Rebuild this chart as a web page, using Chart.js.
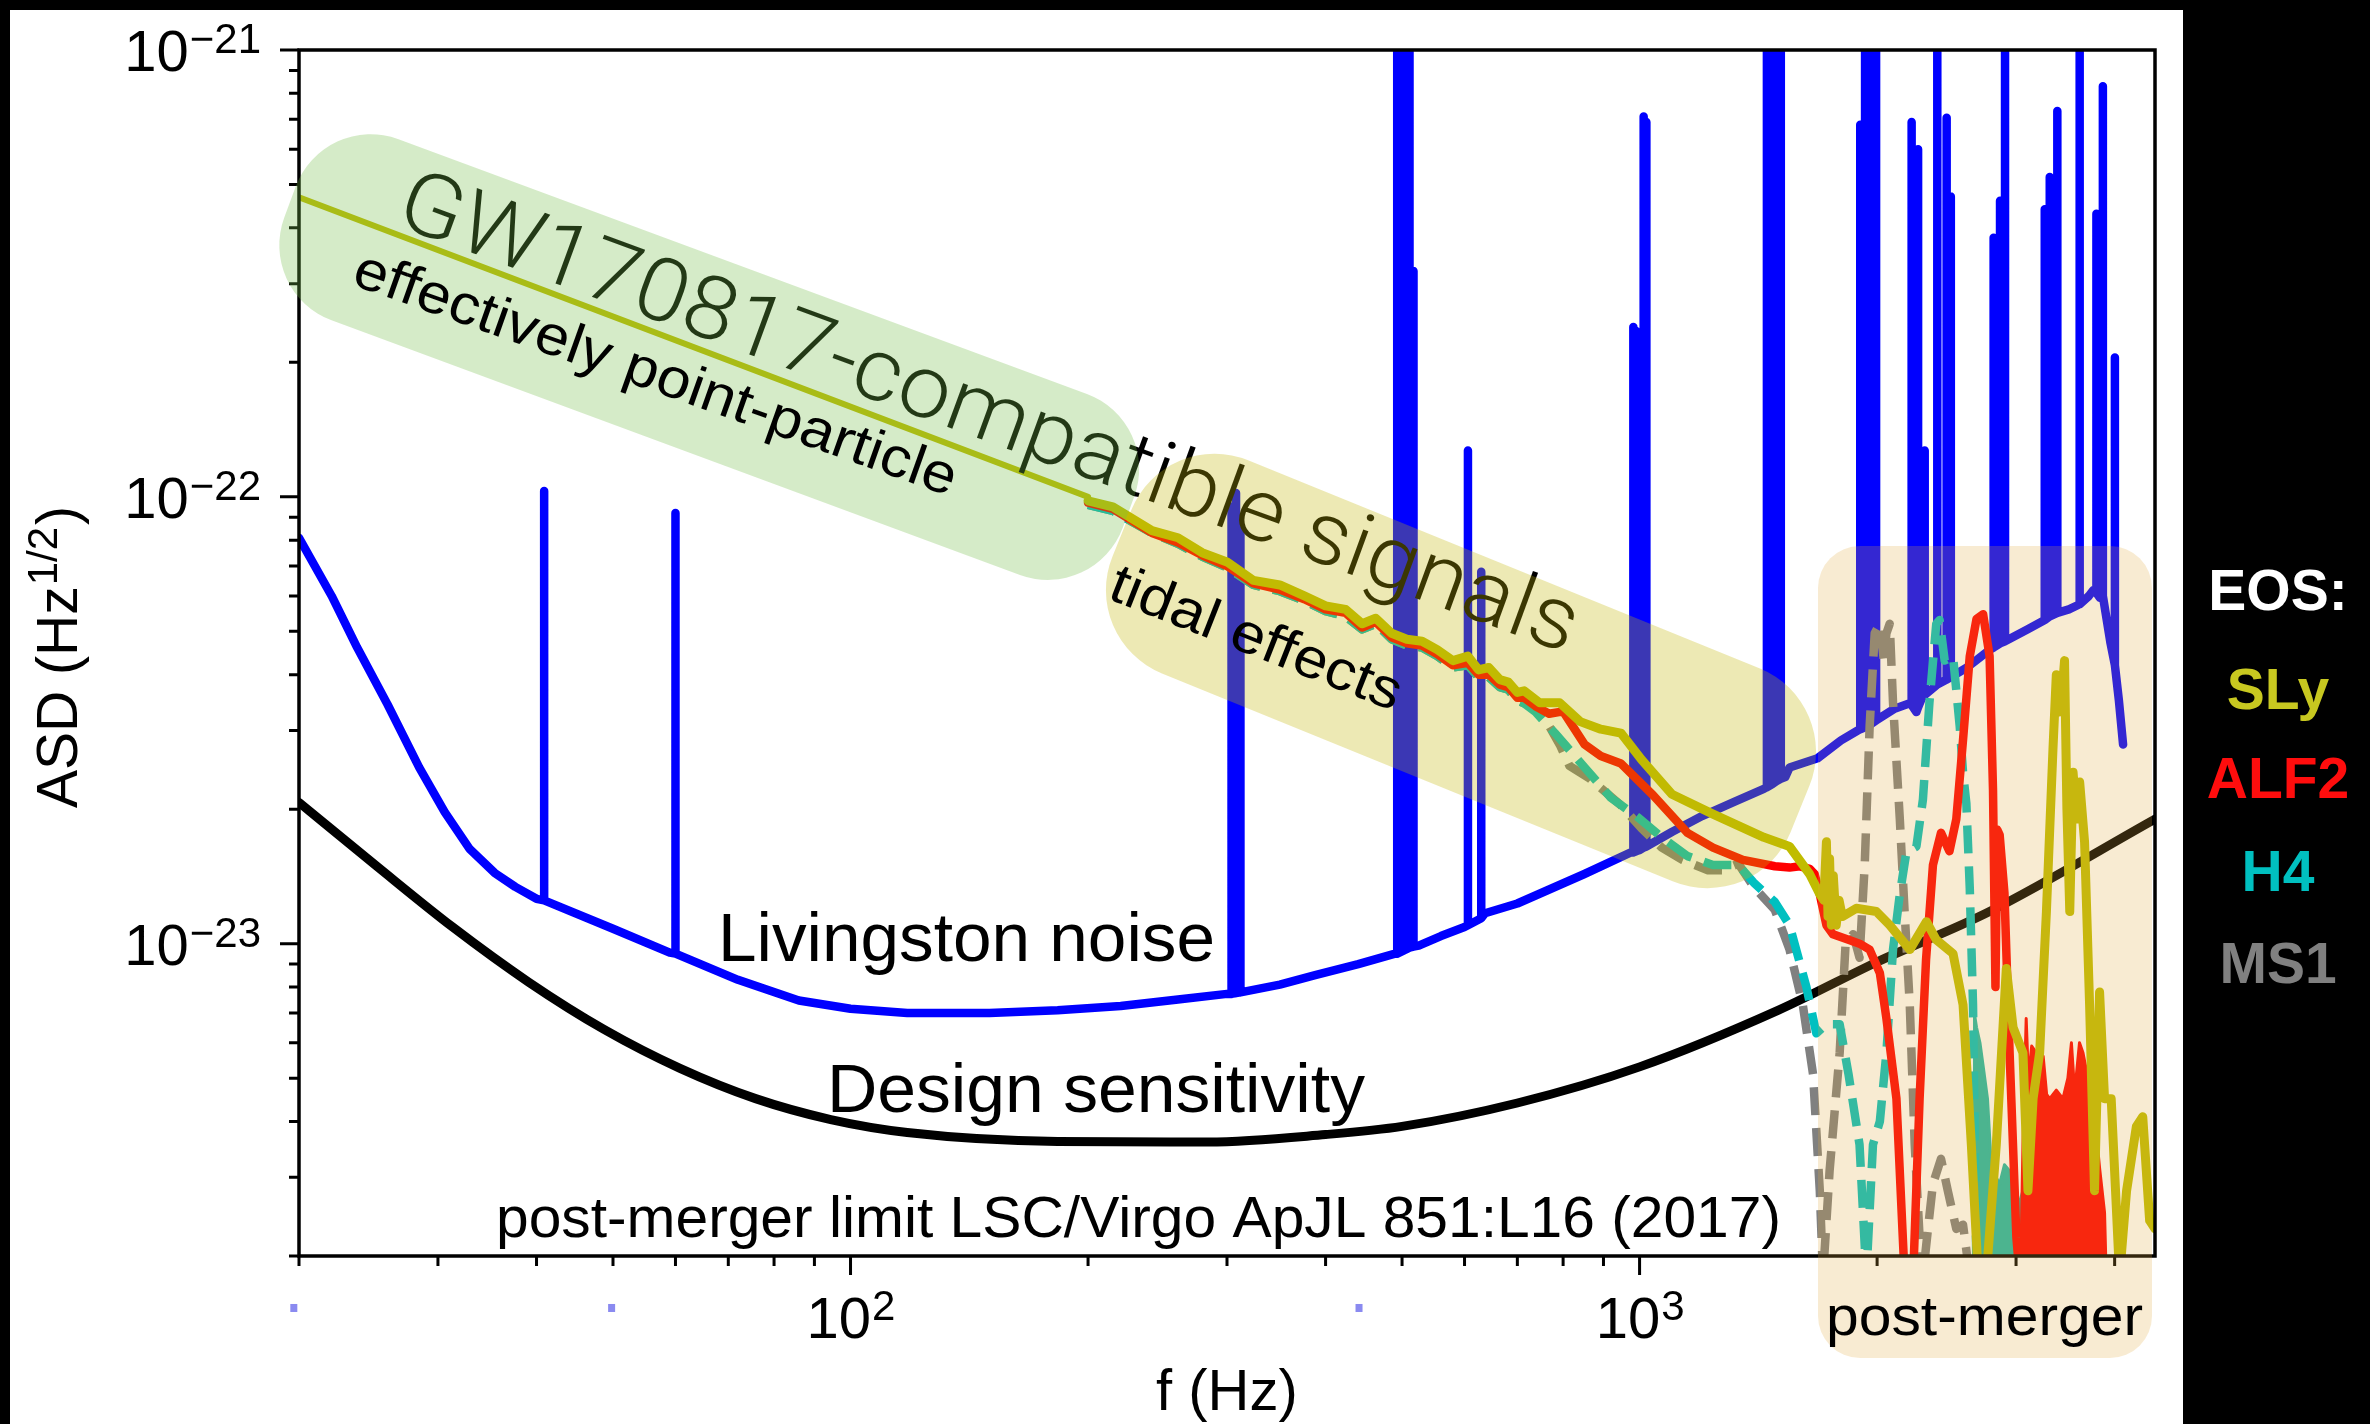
<!DOCTYPE html>
<html>
<head>
<meta charset="utf-8">
<script src="https://cdn.jsdelivr.net/npm/chart.js@4.4.1/dist/chart.umd.min.js"></script>
<style>
  html, body { margin: 0; padding: 0; background: #000; overflow: hidden; }
  canvas { display: block; }
</style>
</head>
<body>
<canvas id="asdChart" width="2370" height="1424"></canvas>
<script>
// ---- Data ----

// Livingston noise, smooth part
const NOISE_F = [20, 22, 23.7, 25.9, 28.4, 30.6, 32.9, 35.4, 37.6, 40, 50, 59, 72, 86, 100, 118, 150, 183, 220, 260, 300, 350, 388, 440, 490, 525, 560, 600, 637, 700, 850, 975, 1100, 1200, 1320, 1437, 1530, 1549, 1681, 1800, 1890, 2100, 2200, 2243, 2280, 2600, 2780, 3100, 3500, 3710, 3755, 3830, 3950, 4050, 4100];
const NOISE_ASD = [8.1e-23, 6.0e-23, 4.6e-23, 3.43e-23, 2.48e-23, 1.97e-23, 1.63e-23, 1.44e-23, 1.34e-23, 1.26e-23, 1.08e-23, 9.55e-24, 8.3e-24, 7.46e-24, 7.15e-24, 7.0e-24, 7.0e-24, 7.1e-24, 7.25e-24, 7.5e-24, 7.72e-24, 8.1e-24, 8.5e-24, 9.0e-24, 9.5e-24, 9.9e-24, 1.04e-23, 1.09e-23, 1.17e-23, 1.23e-23, 1.43e-23, 1.6e-23, 1.78e-23, 1.93e-23, 2.08e-23, 2.22e-23, 2.36e-23, 2.48e-23, 2.6e-23, 2.85e-23, 3.0e-23, 3.35e-23, 3.45e-23, 3.3e-23, 3.55e-23, 4.15e-23, 4.55e-23, 5.05e-23, 5.6e-23, 6.0e-23, 6.17e-23, 5.95e-23, 4.73e-23, 3.5e-23, 2.79e-23];

// Livingston noise, spectral lines: frequency, floor under the line, top of the line
const LINE_F = [40.9, 60, 304, 308, 312, 493, 499, 505, 511, 517, 606, 630, 982, 990, 1000, 1012, 1020, 1450, 1470, 1490, 1510, 1904, 1931, 1952, 1973, 1994, 2212, 2254, 2298, 2384, 2450, 2480, 2810, 2863, 2905, 3262, 3310, 3384, 3612, 3793, 3865, 4003];
const LINE_BASE = [1.25e-23, 9.5e-24, 7.72e-24, 7.75e-24, 7.78e-24, 9.5e-24, 9.6e-24, 9.7e-24, 9.8e-24, 9.85e-24, 1.1e-23, 1.14e-23, 1.6e-23, 1.61e-23, 1.62e-23, 1.64e-23, 1.65e-23, 2.24e-23, 2.27e-23, 2.31e-23, 2.34e-23, 3.02e-23, 3.05e-23, 3.08e-23, 3.12e-23, 3.16e-23, 3.42e-23, 3.38e-23, 3.6e-23, 3.8e-23, 3.9e-23, 3.95e-23, 4.6e-23, 4.7e-23, 4.75e-23, 5.3e-23, 5.4e-23, 5.5e-23, 5.75e-23, 6.1e-23, 6.0e-23, 4.2e-23];
const LINE_TOP = [1.03e-22, 9.2e-23, 9.5e-23, 1.02e-22, 8.6e-23, 3e-21, 3e-21, 3e-21, 3e-21, 3.2e-22, 1.27e-22, 6.8e-23, 2.4e-22, 2.35e-22, 1.5e-22, 7.1e-22, 6.9e-22, 3e-21, 3e-21, 3e-21, 3e-21, 6.8e-22, 3e-21, 3e-21, 3e-21, 3e-21, 6.9e-22, 6.0e-22, 1.27e-22, 3e-21, 7.05e-22, 4.7e-22, 3.8e-22, 4.6e-22, 3e-21, 4.4e-22, 5.2e-22, 7.3e-22, 3e-21, 4.3e-22, 8.3e-22, 2.05e-22];

// Design sensitivity
const DESIGN_F = [20, 25.1, 31.3, 39.1, 48.7, 60.8, 75.8, 94.4, 118, 183, 284, 400, 500, 700, 1000, 1500, 2000, 2777, 4500];
const DESIGN_ASD = [2.07e-23, 1.49e-23, 1.09e-23, 8.2e-24, 6.43e-24, 5.26e-24, 4.5e-24, 4.04e-24, 3.78e-24, 3.61e-24, 3.6e-24, 3.74e-24, 3.9e-24, 4.4e-24, 5.3e-24, 7.1e-24, 9.1e-24, 1.18e-23, 1.9e-23];

// Point-particle inspiral, shared by all EOS
const PP_F = [20, 200];
const PP_ASD = [4.68e-22, 1.0e-22];

// SLy
const SLY_F = [200, 215, 241, 260, 279, 300, 324, 350, 376, 400, 424, 445, 463, 485, 507, 530, 554, 580, 606, 625, 644, 665, 682, 700, 714, 747, 792, 841, 893, 947, 1006, 1099, 1239, 1437, 1549, 1643, 1692, 1712, 1725, 1733, 1741, 1750, 1760, 1775, 1790, 1807, 1882, 1996, 2075, 2200, 2310, 2377, 2496, 2570, 2633, 2687, 2750, 2832, 2916, 2974, 3061, 3106, 3153, 3214, 3278, 3341, 3374, 3400, 3423, 3456, 3480, 3509, 3543, 3580, 3612, 3664, 3718, 3772, 3828, 3884, 3960, 4058, 4142, 4262, 4342, 4430, 4500];
const SLY_ASD = [9.8e-23, 9.5e-23, 8.4e-23, 8.1e-23, 7.5e-23, 7.15e-23, 6.5e-23, 6.35e-23, 6.0e-23, 5.7e-23, 5.6e-23, 5.2e-23, 5.35e-23, 4.95e-23, 4.8e-23, 4.75e-23, 4.55e-23, 4.3e-23, 4.4e-23, 4.1e-23, 4.15e-23, 3.9e-23, 3.85e-23, 3.65e-23, 3.68e-23, 3.46e-23, 3.46e-23, 3.14e-23, 3.02e-23, 2.96e-23, 2.58e-23, 2.16e-23, 1.95e-23, 1.73e-23, 1.65e-23, 1.43e-23, 1.29e-23, 1.25e-23, 1.69e-23, 1.15e-23, 1.55e-23, 1.1e-23, 1.42e-23, 1.1e-23, 1.25e-23, 1.15e-23, 1.2e-23, 1.18e-23, 1.1e-23, 9.7e-24, 1.12e-23, 1.02e-23, 9.5e-24, 7.3e-24, 3.55e-24, 1.8e-24, 1.8e-24, 3.55e-24, 8.8e-24, 6.5e-24, 5.7e-24, 2.8e-24, 4.5e-24, 5.7e-24, 1.18e-23, 2.72e-23, 4.0e-23, 3.3e-23, 3.47e-23, 4.3e-23, 2.0e-23, 1.18e-23, 2.42e-23, 1.9e-23, 2.3e-23, 1.69e-23, 7.3e-24, 2.8e-24, 7.8e-24, 4.5e-24, 4.5e-24, 1.8e-24, 2.8e-24, 3.9e-24, 4.1e-24, 2.4e-24, 2.3e-24];

// ALF2
const ALF2_F = [200, 215, 241, 260, 279, 300, 324, 350, 376, 400, 424, 445, 463, 485, 507, 530, 554, 580, 606, 625, 644, 665, 682, 700, 714, 738, 768, 800, 852, 893, 947, 1040, 1150, 1239, 1352, 1484, 1549, 1596, 1643, 1667, 1692, 1725, 1758, 1840, 1900, 1957, 2016, 2055, 2116, 2167, 2222, 2264, 2307, 2354, 2410, 2470, 2520, 2570, 2621, 2673, 2725, 2777, 2805, 2825, 2840, 2860, 2900, 2944, 3003, 3032];
const ALF2_ASD = [9.7e-23, 9.4e-23, 8.3e-23, 7.9e-23, 7.4e-23, 7.0e-23, 6.4e-23, 6.2e-23, 5.9e-23, 5.6e-23, 5.5e-23, 5.1e-23, 5.25e-23, 4.85e-23, 4.7e-23, 4.65e-23, 4.45e-23, 4.2e-23, 4.25e-23, 4.0e-23, 4.0e-23, 3.8e-23, 3.75e-23, 3.55e-23, 3.55e-23, 3.4e-23, 3.27e-23, 3.31e-23, 2.79e-23, 2.63e-23, 2.53e-23, 2.15e-23, 1.77e-23, 1.64e-23, 1.54e-23, 1.49e-23, 1.48e-23, 1.49e-23, 1.47e-23, 1.43e-23, 1.29e-23, 1.1e-23, 1.05e-23, 1.02e-23, 1.0e-23, 9.7e-24, 8.6e-24, 6.8e-24, 4.5e-24, 1.8e-24, 1.8e-24, 4.5e-24, 9.2e-24, 1.5e-23, 1.77e-23, 1.61e-23, 1.9e-23, 2.86e-23, 4.4e-23, 5.33e-23, 5.46e-23, 4.4e-23, 2.2e-23, 8.0e-24, 1.8e-23, 1.75e-23, 1.3e-23, 5.7e-24, 2.2e-24, 1.8e-24];
// ALF2 ringdown, upper envelope of the dense oscillation
const ALF2_RING_F = [3040, 3061, 3090, 3110, 3140, 3183, 3215, 3247, 3280, 3310, 3374, 3440, 3490, 3526, 3550, 3578, 3610, 3647, 3700, 3755, 3800, 3828, 3884, 3903];
const ALF2_RING_ASD = [1.8e-24, 3.55e-24, 6.8e-24, 5.0e-24, 5.9e-24, 5.7e-24, 5.2e-24, 5.6e-24, 4.6e-24, 4.5e-24, 4.7e-24, 4.5e-24, 5.0e-24, 6.0e-24, 5.0e-24, 5.1e-24, 6.0e-24, 5.7e-24, 5.0e-24, 4.5e-24, 3.6e-24, 3.15e-24, 2.5e-24, 1.8e-24];

// H4
const H4_F = [200, 215, 241, 260, 279, 300, 324, 350, 376, 400, 424, 445, 463, 485, 507, 530, 554, 580, 606, 625, 644, 665, 682, 700, 714, 738, 781, 852, 920, 994, 1067, 1150, 1239, 1334, 1395, 1484, 1549, 1627, 1675, 1725, 1793, 1840, 1900, 1938, 1976, 2016, 2055, 2095, 2137, 2178, 2243, 2286, 2330, 2377, 2400, 2436, 2496, 2545, 2570, 2595, 2621, 2646, 2673];
const H4_ASD = [9.6e-23, 9.3e-23, 8.3e-23, 7.85e-23, 7.35e-23, 6.95e-23, 6.35e-23, 6.15e-23, 5.85e-23, 5.55e-23, 5.4e-23, 5.05e-23, 5.2e-23, 4.8e-23, 4.65e-23, 4.6e-23, 4.4e-23, 4.15e-23, 4.2e-23, 3.95e-23, 3.95e-23, 3.75e-23, 3.7e-23, 3.5e-23, 3.45e-23, 3.3e-23, 2.96e-23, 2.48e-23, 2.12e-23, 1.92e-23, 1.73e-23, 1.57e-23, 1.5e-23, 1.5e-23, 1.37e-23, 1.24e-23, 1.1e-23, 8.0e-24, 6.3e-24, 6.6e-24, 6.6e-24, 5.1e-24, 3.55e-24, 1.8e-24, 3.55e-24, 4.0e-24, 5.7e-24, 9.7e-24, 1.29e-23, 1.6e-23, 1.65e-23, 2.1e-23, 3.47e-23, 5.2e-23, 5.3e-23, 4.3e-23, 4.4e-23, 3.07e-23, 2.42e-23, 2.06e-23, 1.33e-23, 7.3e-24, 1.8e-24];
// H4 ringdown, upper envelope
const H4_RING_F = [2646, 2673, 2700, 2730, 2760, 2790, 2830, 2860, 2900, 2944, 3003, 3061, 3106, 3150, 3250, 3300, 3400, 3450];
const H4_RING_ASD = [7.3e-24, 6.5e-24, 6.0e-24, 5.2e-24, 4.5e-24, 3.2e-24, 3.0e-24, 2.9e-24, 3.2e-24, 3.1e-24, 2.5e-24, 2.8e-24, 2.9e-24, 2.6e-24, 2.2e-24, 2.4e-24, 2.0e-24, 1.8e-24];

// MS1
const MS1_F = [200, 215, 241, 260, 279, 300, 324, 350, 376, 400, 424, 445, 463, 485, 507, 530, 554, 580, 606, 625, 644, 665, 682, 700, 714, 747, 792, 815, 865, 947, 1006, 1067, 1133, 1221, 1275, 1334, 1395, 1484, 1549, 1610, 1659, 1692, 1708, 1741, 1793, 1824, 1865, 1900, 1929, 1957, 1986, 2016, 2040, 2055, 2075, 2095, 2137, 2167, 2200, 2232, 2264, 2286, 2320, 2354, 2410, 2458, 2520, 2570, 2621];
const MS1_ASD = [9.6e-23, 9.3e-23, 8.3e-23, 7.85e-23, 7.35e-23, 6.95e-23, 6.35e-23, 6.15e-23, 5.85e-23, 5.55e-23, 5.4e-23, 5.05e-23, 5.2e-23, 4.8e-23, 4.65e-23, 4.6e-23, 4.4e-23, 4.15e-23, 4.2e-23, 3.95e-23, 3.95e-23, 3.75e-23, 3.7e-23, 3.5e-23, 3.45e-23, 3.35e-23, 2.79e-23, 2.5e-23, 2.34e-23, 2.04e-23, 1.81e-23, 1.64e-23, 1.54e-23, 1.46e-23, 1.46e-23, 1.51e-23, 1.34e-23, 1.19e-23, 9.7e-24, 7.3e-24, 5.1e-24, 2.8e-24, 1.8e-24, 3.1e-24, 5.7e-24, 9.95e-24, 1.05e-23, 9.3e-24, 1.5e-23, 3.07e-23, 4.95e-23, 5.2e-23, 4.3e-23, 4.95e-23, 5.2e-23, 3.47e-23, 1.9e-23, 1.18e-23, 7.3e-24, 3.55e-24, 2.2e-24, 1.8e-24, 2.3e-24, 2.9e-24, 3.3e-24, 2.8e-24, 2.3e-24, 2.35e-24, 1.8e-24];

// small stray marks under the x axis
const MARK_F = [19.7, 49.8, 441];
const MARK_ASD = [1.53e-24, 1.53e-24, 1.53e-24];

// Axes
const X_MIN = 20, X_MAX = 4500;
const Y_MIN = 2e-24, Y_MAX = 1e-21;
const X_MAJOR = [100, 1000];
const X_MAJOR_EXP = ['2', '3'];
const X_MINOR = [20, 30, 40, 50, 60, 70, 80, 90, 200, 300, 400, 500, 600, 700, 800, 900, 2000, 3000, 4000];
const Y_MAJOR = [1e-23, 1e-22, 1e-21];
const Y_MAJOR_EXP = ['\u221223', '\u221222', '\u221221'];
const Y_MINOR = [2e-24, 3e-24, 4e-24, 5e-24, 6e-24, 7e-24, 8e-24, 9e-24, 2e-23, 3e-23, 4e-23, 5e-23, 6e-23, 7e-23, 8e-23, 9e-23, 2e-22, 3e-22, 4e-22, 5e-22, 6e-22, 7e-22, 8e-22, 9e-22];

const EOS_NAMES = ['SLy', 'ALF2', 'H4', 'MS1'];
const EOS_COLORS = ['#c0bc00', '#ff0000', '#00c0c0', '#808080'];
const LEGEND_COLORS = ['#c8c820', '#ff0d0d', '#00c0c0', '#808080'];

// ---- Helpers ----
const FONT = '"Liberation Sans", Arial, Helvetica, sans-serif';
const pts = (fs, vs) => fs.map((f, i) => ({ x: f, y: vs[i] }));

function noisePoints() {
    const list = pts(NOISE_F, NOISE_ASD);
    LINE_F.forEach((f, i) => {
        list.push({ x: f, y: LINE_BASE[i] }, { x: f, y: LINE_TOP[i] }, { x: f, y: LINE_BASE[i] });
    });
    return list.sort((a, b) => a.x - b.x);
}

// text, optionally rotated and stretched to a given length
function label(ctx, str, x, y, opts) {
    ctx.save();
    ctx.font = opts.font;
    ctx.fillStyle = opts.color || '#000';
    ctx.textAlign = opts.align || 'left';
    ctx.textBaseline = 'alphabetic';
    ctx.translate(x, y);
    if (opts.angle) ctx.rotate(opts.angle * Math.PI / 180);
    if (opts.width) {
        const w = ctx.measureText(str).width;
        ctx.scale(opts.width / w, 1);
    }
    ctx.fillText(str, 0, 0);
    ctx.restore();
}

// base with superscript exponent
function powLabel(ctx, base, exp, x, y, align) {
    ctx.save();
    ctx.fillStyle = '#000';
    ctx.textBaseline = 'alphabetic';
    ctx.textAlign = 'left';
    ctx.font = '58px ' + FONT;
    const wb = ctx.measureText(base).width;
    ctx.font = '42px ' + FONT;
    const we = ctx.measureText(exp).width;
    const x0 = align === 'center' ? x - (wb + we) / 2 : x - (wb + we);
    ctx.font = '58px ' + FONT;
    ctx.fillText(base, x0, y);
    ctx.font = '42px ' + FONT;
    ctx.fillText(exp, x0 + wb + 1, y - 18);
    ctx.restore();
}

function band(ctx, sx, sy, len, wid, rad, deg, fill) {
    ctx.save();
    ctx.translate(sx, sy);
    ctx.rotate(deg * Math.PI / 180);
    ctx.beginPath();
    ctx.roundRect(0, -wid / 2, len, wid, rad);
    ctx.fillStyle = fill;
    ctx.fill();
    ctx.restore();
}

const figure = {
    id: 'figure',
    beforeDraw(chart) {
        const ctx = chart.ctx;
        ctx.save();
        ctx.fillStyle = '#000';
        ctx.fillRect(0, 0, chart.width, chart.height);
        ctx.fillStyle = '#fff';
        ctx.fillRect(10, 10, 2173, chart.height - 10);
        ctx.restore();
    },
    afterDatasetsDraw(chart) {
        const { ctx, chartArea: a } = chart;
        const xs = chart.scales.x, ys = chart.scales.y;

        // spines and ticks
        ctx.save();
        ctx.strokeStyle = '#000';
        ctx.lineWidth = 3.5;
        ctx.strokeRect(a.left, a.top, a.right - a.left, a.bottom - a.top);
        ctx.lineWidth = 3;
        ctx.beginPath();
        X_MAJOR.forEach(v => { const p = xs.getPixelForValue(v); ctx.moveTo(p, a.bottom); ctx.lineTo(p, a.bottom + 19); });
        X_MINOR.forEach(v => { const p = xs.getPixelForValue(v); ctx.moveTo(p, a.bottom); ctx.lineTo(p, a.bottom + 10); });
        Y_MAJOR.forEach(v => { const p = ys.getPixelForValue(v); ctx.moveTo(a.left, p); ctx.lineTo(a.left - 19, p); });
        Y_MINOR.forEach(v => { const p = ys.getPixelForValue(v); ctx.moveTo(a.left, p); ctx.lineTo(a.left - 10, p); });
        ctx.stroke();
        // stray marks below the axis
        ctx.fillStyle = '#8a8af0';
        MARK_F.forEach((f, i) => {
            const px = xs.getPixelForValue(f), py = ys.getPixelForValue(MARK_ASD[i]);
            ctx.fillRect(px - 3.5, py - 4, 7, 8);
        });
        ctx.restore();

        // big headline sits under the bands
        label(ctx, 'GW170817-compatible signals', 393, 224, { font: '300 88px Roboto, ' + FONT, angle: 20.1, width: 1250 });

        // bands
        band(ctx, 290, 202, 894, 193, 80, 20.3, 'rgba(115,188,72,0.3)');
        band(ctx, 1122, 533, 732, 230, 90, 22.15, 'rgba(195,182,5,0.3)');
        ctx.save();
        ctx.beginPath();
        ctx.roundRect(1818, 546, 334, 812, 42);
        ctx.fillStyle = 'rgba(225,169,60,0.23)';
        ctx.fill();
        ctx.restore();

        // annotations
        label(ctx, 'effectively point-particle', 350, 284, { font: '56px ' + FONT, angle: 19.5, width: 636 });
        label(ctx, 'tidal effects', 1106, 598, { font: '56px ' + FONT, angle: 21.5, width: 309 });
        label(ctx, 'Livingston noise', 718, 961, { font: '68px ' + FONT, width: 497 });
        label(ctx, 'Design sensitivity', 827, 1112, { font: '68px ' + FONT, width: 538 });
        label(ctx, 'post-merger limit LSC/Virgo ApJL 851:L16 (2017)', 496, 1237, { font: '58px ' + FONT, width: 1285 });
        label(ctx, 'post-merger', 1826, 1335, { font: '56px ' + FONT, width: 317 });

        // tick labels
        X_MAJOR.forEach((v, i) => powLabel(ctx, '10', X_MAJOR_EXP[i], xs.getPixelForValue(v), 1338, 'center'));
        Y_MAJOR.forEach((v, i) => powLabel(ctx, '10', Y_MAJOR_EXP[i], 260, ys.getPixelForValue(v) + 21, 'right'));

        // axis titles
        label(ctx, 'f (Hz)', 1156, 1410, { font: '58px ' + FONT });
        ctx.save();
        ctx.translate(77, 808);
        ctx.rotate(-Math.PI / 2);
        ctx.fillStyle = '#000';
        ctx.font = '57px ' + FONT;
        const w1 = ctx.measureText('ASD (Hz').width;
        ctx.fillText('ASD (Hz', 0, 0);
        ctx.font = '42px ' + FONT;
        const w2 = ctx.measureText('1/2').width;
        ctx.fillText('1/2', w1 + 1, -20);
        ctx.font = '57px ' + FONT;
        ctx.fillText(')', w1 + w2 + 3, 0);
        ctx.restore();

        // EOS legend on the black strip
        label(ctx, 'EOS:', 2278, 610, { font: 'bold 57px ' + FONT, color: '#fff', align: 'center' });
        const rows = [709, 798, 891, 983];
        EOS_NAMES.forEach((n, i) => label(ctx, n, 2278, rows[i], { font: 'bold 57px ' + FONT, color: LEGEND_COLORS[i], align: 'center' }));
    }
};

const lineSet = (lbl, data, color, width, order, extra) => Object.assign({
    label: lbl, data, borderColor: color, backgroundColor: color, borderWidth: width,
    pointRadius: 0, fill: false, clip: 0, order
}, extra || {});

new Chart(document.getElementById('asdChart'), {
    type: 'line',
    data: {
        datasets: [
            lineSet('point-particle', pts(PP_F, PP_ASD), EOS_COLORS[0], 6, 1),
            lineSet('SLy', pts(SLY_F, SLY_ASD), EOS_COLORS[0], 9, 2),
            lineSet('ALF2', pts(ALF2_F, ALF2_ASD), EOS_COLORS[1], 8.5, 3),
            lineSet('ALF2 ringdown', pts(ALF2_RING_F, ALF2_RING_ASD), EOS_COLORS[1], 3, 4, { fill: 'start' }),
            lineSet('H4', pts(H4_F, H4_ASD), EOS_COLORS[2], 8.5, 5, { borderDash: [28, 13], borderCapStyle: 'butt' }),
            lineSet('H4 ringdown', pts(H4_RING_F, H4_RING_ASD), '#20b8a8', 3, 6, { fill: 'start' }),
            lineSet('MS1', pts(MS1_F, MS1_ASD), EOS_COLORS[3], 8.5, 7, { borderDash: [28, 13], borderCapStyle: 'butt' }),
            lineSet('Design sensitivity', pts(DESIGN_F, DESIGN_ASD), '#000', 9, 8, { cubicInterpolationMode: 'monotone' }),
            lineSet('Livingston noise', noisePoints(), '#0000ff', 8.5, 9)
        ]
    },
    options: {
        responsive: false,
        devicePixelRatio: 1,
        animation: false,
        events: [],
        layout: { padding: { left: 299, top: 50, right: 215, bottom: 168 } },
        elements: {
            point: { radius: 0 },
            line: { tension: 0, borderJoinStyle: 'round', borderCapStyle: 'round' }
        },
        plugins: { legend: { display: false }, tooltip: { enabled: false } },
        scales: {
            x: { type: 'logarithmic', min: X_MIN, max: X_MAX, display: false },
            y: { type: 'logarithmic', min: Y_MIN, max: Y_MAX, display: false }
        }
    },
    plugins: [figure]
});
</script>
</body>
</html>
